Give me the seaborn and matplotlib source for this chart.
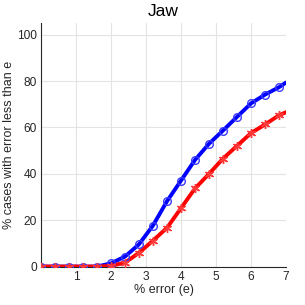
import numpy as np
import pandas as pd
import matplotlib
matplotlib.use('Agg')
import matplotlib.pyplot as plt
import seaborn as sns

# values (marker every 0.4, last point at 7)
error_pct = [0, 0.4, 0.8, 1.2, 1.6, 2.0, 2.4, 2.8, 3.2, 3.6, 4.0, 4.4, 4.8, 5.2, 5.6, 6.0, 6.4, 6.8, 7.0]
blue_vals = [0, 0, 0, 0, 0, 1.4, 4.3, 9.6, 17.7, 28.2, 37.1, 46.0, 53.0, 58.7, 64.6, 70.4, 74.2, 77.4, 79.4]
red_vals = [0, 0, 0, 0, 0, 0.3, 1.7, 5.9, 11.2, 16.7, 25.2, 33.7, 40.0, 46.6, 52.1, 57.6, 61.3, 65.3, 66.6]
x_ticks = [1, 2, 3, 4, 5, 6, 7]
y_ticks = [0, 20, 40, 60, 80, 100]

df = pd.DataFrame({'e': error_pct, 'blue': blue_vals, 'red': red_vals})

sns.set_style('white')
plt.rcParams['font.family'] = ['Liberation Sans', 'DejaVu Sans']

fig = plt.figure(figsize=(3.05, 3.05), dpi=100)
ax = fig.add_axes([0.134, 0.126, 0.804, 0.798])

# lines
sns.lineplot(data=df, x='e', y='blue', ax=ax, color='#0000ff', linewidth=2.8, zorder=3)
sns.lineplot(data=df, x='e', y='red', ax=ax, color='#ff0000', linewidth=2.8, zorder=3)
# markers (not on the last point)
mk = df.iloc[:-1]
ax.plot(mk['e'], mk['blue'], linestyle='none', marker='o', markersize=5.5,
        markerfacecolor='none', markeredgecolor='#3a3aff', markeredgewidth=1.0, zorder=4)
ax.plot(mk['e'], mk['red'], linestyle='none', marker=(6, 2, 0), markersize=6.5,
        markeredgecolor='#ff3a3a', markeredgewidth=1.0, zorder=4)

ax.set_xlim(0, 7)
ax.set_ylim(0, 105)
ax.set_xticks(x_ticks)
ax.set_yticks(y_ticks)
ax.grid(True, color='#e3e3e3', linewidth=0.8)
ax.set_axisbelow(True)

for s in ['top', 'right']:
    ax.spines[s].set_visible(False)
for s in ['left', 'bottom']:
    ax.spines[s].set_color('#262626')
    ax.spines[s].set_linewidth(0.8)

ax.tick_params(direction='in', length=3, width=0.8, colors='#262626', labelsize=8.6, pad=3)
ax.set_xlabel('% error (e)', fontsize=9, color='#262626', labelpad=1)
ax.set_ylabel('% cases with error less than e', fontsize=9, color='#262626', labelpad=1.5)
ax.set_title('Jaw', fontsize=12.5, color='black', pad=5)

fig.savefig('out.png', dpi=100)
